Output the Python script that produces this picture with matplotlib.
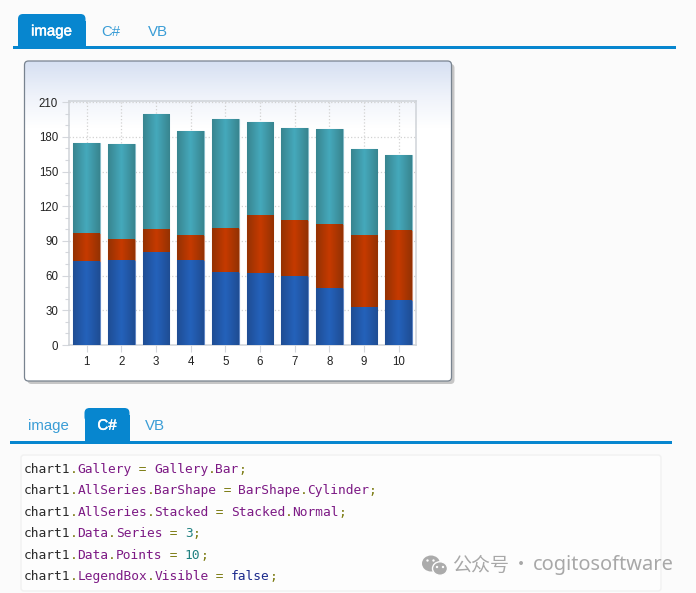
import matplotlib
matplotlib.use('Agg')
import matplotlib.pyplot as plt
import matplotlib.patheffects as pe
from matplotlib.patches import FancyBboxPatch, Rectangle, Ellipse
from matplotlib.colors import LinearSegmentedColormap
from matplotlib.ticker import MultipleLocator
import numpy as np

W, H = 696, 593

# Chart data
points = [1, 2, 3, 4, 5, 6, 7, 8, 9, 10]
blue_values = [72.5, 73.7, 80, 73.7, 63.5, 62.5, 60, 49.5, 32.5, 39]
red_values = [24, 18, 20, 21.5, 38, 50, 48, 55, 62.5, 60.5]
teal_values = [78.5, 82, 100, 90, 94, 80, 80, 82.5, 74.5, 64.5]
y_ticks = [0, 30, 60, 90, 120, 150, 180, 210]

# Tab labels and code lines
tab_labels = ['image', 'C#', 'VB']
code_lines = [
    [('chart1', 'k'), ('.', 'o'), ('Gallery', 'p'), (' = ', 'o'), ('Gallery', 'p'), ('.', 'o'), ('Bar', 'p'), (';', 'o')],
    [('chart1', 'k'), ('.', 'o'), ('AllSeries', 'p'), ('.', 'o'), ('BarShape', 'p'), (' = ', 'o'), ('BarShape', 'p'), ('.', 'o'), ('Cylinder', 'p'), (';', 'o')],
    [('chart1', 'k'), ('.', 'o'), ('AllSeries', 'p'), ('.', 'o'), ('Stacked', 'p'), (' = ', 'o'), ('Stacked', 'p'), ('.', 'o'), ('Normal', 'p'), (';', 'o')],
    [('chart1', 'k'), ('.', 'o'), ('Data', 'p'), ('.', 'o'), ('Series', 'p'), (' = ', 'o'), ('3', 't'), (';', 'o')],
    [('chart1', 'k'), ('.', 'o'), ('Data', 'p'), ('.', 'o'), ('Points', 'p'), (' = ', 'o'), ('10', 't'), (';', 'o')],
    [('chart1', 'k'), ('.', 'o'), ('LegendBox', 'p'), ('.', 'o'), ('Visible', 'p'), (' = ', 'o'), ('false', 'n'), (';', 'o')],
]
code_colors = {'k': '#2a2a2a', 'o': '#7a7a10', 'p': '#7d1a85', 't': '#1f8080', 'n': '#1c2a8c'}

TAB_BLUE = '#0786cf'
TAB_TEXT = '#3a9dd6'

fig = plt.figure(figsize=(W / 100, H / 100), dpi=100, facecolor='#fbfbfb')

# Page layer in pixel coordinates
page = fig.add_axes([0, 0, 1, 1])
page.axis('off')


def draw_tabs(active, x0, x1, top, line_y, tab_x, tab_w, label_x):
    # rounded top, square foot hidden by the rule
    page.add_patch(FancyBboxPatch((tab_x, top), tab_w, 14, boxstyle='round,pad=0,rounding_size=5',
                                  fc=TAB_BLUE, ec='none', zorder=2))
    page.add_patch(Rectangle((tab_x, top + 7), tab_w, line_y - top - 6, fc=TAB_BLUE, ec='none', zorder=2))
    page.add_patch(Rectangle((x0, line_y), x1 - x0, 3.2, fc=TAB_BLUE, ec='none', zorder=3))
    for i, label in enumerate(tab_labels):
        t = page.text(label_x[i], (top + line_y) / 2 + 1.5, label, ha='center', va='center',
                      family='Liberation Sans', fontsize=10.8,
                      color='white' if i == active else TAB_TEXT, zorder=4)
        if i == active:
            t.set_path_effects([pe.withStroke(linewidth=0.35, foreground='white')])


draw_tabs(0, 13, 676, 14, 46, 18, 67.5, [51.5, 110.5, 158])
draw_tabs(1, 10, 672, 408, 440.5, 84.5, 45, [48, 107, 154.5])

# Chart panel with shadow and gradient top
page.add_patch(FancyBboxPatch((27.5, 64), 427, 320, boxstyle='round,pad=0,rounding_size=4',
                              fc='#c6c6c6', ec='none', zorder=1))
panel = FancyBboxPatch((24.5, 61), 427, 320, boxstyle='round,pad=0,rounding_size=4',
                       fc='white', ec='none', zorder=2)
page.add_patch(panel)
sky = LinearSegmentedColormap.from_list('sky', ['#d6e0f2', '#eef2fa', '#ffffff'])
grad = page.imshow(np.linspace(0, 1, 80).reshape(-1, 1), cmap=sky, aspect='auto',
                   extent=(24.5, 451.5, 128, 61), zorder=2.5)
grad.set_clip_path(panel)
page.add_patch(FancyBboxPatch((24.5, 61), 427, 320, boxstyle='round,pad=0,rounding_size=4',
                              fc='none', ec='#78838f', lw=0.9, zorder=2.6))

# Code box
page.add_patch(FancyBboxPatch((21, 455), 640, 136, boxstyle='round,pad=0,rounding_size=3',
                              fc='#fdfdfd', ec='#f1f1f1', lw=1, zorder=1))
char_w = 7.66
for row, tokens in enumerate(code_lines):
    col = 0
    for text, kind in tokens:
        page.text(24 + col * char_w, 469.5 + row * 21.4, text, ha='left', va='center',
                  family='DejaVu Sans Mono', fontsize=9.3, color=code_colors[kind], zorder=4)
        col += len(text)

# Watermark
page.add_patch(Ellipse((431, 563.5), 18, 16, fc='#ababab', ec='none', zorder=4))
page.add_patch(Ellipse((440, 568.5), 15, 13.5, fc='#ababab', ec='#fdfdfd', lw=1, zorder=5))
for ex, ey in [(427.5, 560.5), (433.5, 560.5), (437, 567), (443, 567)]:
    page.add_patch(Ellipse((ex, ey), 2.4, 2.4, fc='#fdfdfd', ec='none', zorder=6))
page.text(452, 565, '公众号', family='Noto Sans CJK SC', fontsize=13.7, color='#a8a8a8',
          ha='left', va='center', zorder=4)
page.text(521, 565, '·', family='Noto Sans CJK SC', fontsize=13, color='#a8a8a8',
          ha='center', va='center', zorder=4)
page.text(532.5, 565, 'cogitosoftware', family='Noto Sans', fontsize=14.4, color='#a8a8a8',
          ha='left', va='center', zorder=4)

page.set_xlim(0, W)
page.set_ylim(H, 0)

# Plot area, pixel box converted to figure fractions
left, right, top, bottom = 69.2, 416, 101, 345
ax = fig.add_axes([left / W, 1 - bottom / H, (right - left) / W, (bottom - top) / H])
ax.patch.set_alpha(0)
ax.set_axisbelow(True)

series = [
    (blue_values, ['#1f4d94', '#2462bb', '#1f4d94'], '#5f86c4'),
    (red_values, ['#943203', '#c63a00', '#943203'], '#c98a70'),
    (teal_values, ['#38858f', '#45a9bc', '#38858f'], '#86bcc8'),
]
base = np.zeros(len(points))
shine = np.linspace(0, 1, 64).reshape(1, -1)
for values, stops, edge in series:
    bars = ax.bar(points, values, width=0.77, bottom=base, color=stops[1], edgecolor=edge,
                  linewidth=0.8, zorder=3)
    cmap = LinearSegmentedColormap.from_list('cyl', stops)
    for bar in bars:
        x0, y0 = bar.get_x(), bar.get_y()
        im = ax.imshow(shine, cmap=cmap, aspect='auto', zorder=3.5,
                       extent=(x0, x0 + bar.get_width(), y0, y0 + bar.get_height()))
        im.set_clip_path(bar)
    base = base + np.array(values)

ax.set_xlim(0.5, 10.5)
ax.set_ylim(0, 211)
ax.set_xticks(points)
ax.set_yticks(y_ticks)
ax.yaxis.set_minor_locator(MultipleLocator(10))
ax.grid(True, which='major', color='#d2d2d2', linestyle=':', linewidth=0.9)
ax.tick_params(axis='both', which='major', length=5, width=0.8, color='#d4d7dc', pad=3,
               labelsize=8.3, labelcolor='#222222')
ax.tick_params(axis='y', which='minor', length=3, width=0.8, color='#d4d7dc')
for label in ax.get_xticklabels() + ax.get_yticklabels():
    label.set_family('Liberation Sans')
for side in ax.spines.values():
    side.set_color('#cfd3d8')
    side.set_linewidth(1.1)

fig.savefig('out.png', dpi=100, facecolor=fig.get_facecolor())
